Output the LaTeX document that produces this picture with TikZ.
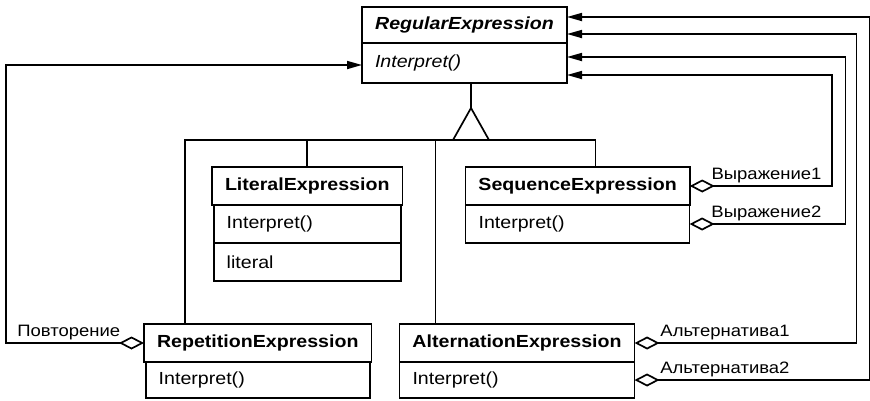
\documentclass[tikz,border=0pt]{standalone}
\usepackage{fontspec}
\setmainfont{Liberation Sans}[FakeStretch=1.12]
\usetikzlibrary{positioning,arrows.meta}

\begin{document}
\begin{tikzpicture}[
    x=1pt, y=-1pt, line width=1.7pt,
    box/.style={draw, outer sep=0pt, inner xsep=13pt, inner ysep=0pt, font=\fontsize{17.5}{21}\selectfont},
    head/.style={box, minimum width=#1, minimum height=38pt, anchor=north west, font=\fontsize{17.5}{21}\selectfont\bfseries},
    member/.style={box, text width=#1, minimum height=38pt, align=left},
    role/.style={inner sep=1pt, font=\fontsize{16.5}{20}\selectfont},
    agg/.style={{Diamond[open,length=25pt,width=13pt]}-{Triangle[length=15pt,width=8pt]}}
]
  \useasboundingbox (0,0) rectangle (870,400);

  % abstract base class
  \node[head=205pt, minimum height=36pt] (re) at (362,7) {\itshape RegularExpression};
  \node[member=179pt, minimum height=40pt, below=0pt of re] (re-op) {\itshape Interpret()};

  % subclasses
  \node[head=187pt] (lit) at (212,167) {LiteralExpression};
  \node[member=161pt, below=0pt of lit] (lit-op) {Interpret()};
  \node[member=161pt, below=0pt of lit-op] (lit-attr) {literal};
  \node[head=224pt, right=63pt of lit] (seq) {SequenceExpression};
  \node[member=198pt, below=0pt of seq] (seq-op) {Interpret()};
  \node[head=224pt] (rep) at (144,324) {RepetitionExpression};
  \node[member=198pt, minimum height=36pt, below=0pt of rep] (rep-op) {Interpret()};
  \node[head=235pt, right=28pt of rep] (alt) {AlternationExpression};
  \node[member=209pt, minimum height=36pt, below=0pt of alt] (alt-op) {Interpret()};

  % inheritance
  \coordinate (tip) at (471,108);
  \coordinate (base) at (471,140);
  \draw (re-op.south -| tip) -- (tip);
  \draw (tip) -- ++(-18,32) -- ++(36,0) -- cycle;
  \draw ([xshift=41pt]rep.north west) |- (base) -| ([xshift=130pt]seq.north west);
  \draw (lit.north) -- (lit.north |- base);
  \draw ([xshift=36pt]alt.north west) -- ([xshift=36pt]alt.north west |- base);

  % aggregations
  \draw[agg] (rep.west) -- ++(-138,0) |- ([yshift=-2pt]re-op.west);
  \draw[agg] (seq.east) -- ++(142,0) |- ([yshift=-12pt]re-op.east);
  \draw[agg] (seq-op.east) -- ++(156,0) |- ([yshift=6pt]re-op.east);
  \draw[agg] (alt.east) -- ++(222,0) |- ([yshift=-9pt]re.east);
  \draw[agg] (alt-op.east) -- ++(235,0) |- ([yshift=8pt]re.east);

  \node[role, above left=1pt and 22pt of rep.west] (rep-role) {Повторение};
  \node[role, above right=1pt and 20pt of seq.east] (seq-role1) {Выражение1};
  \node[role, above right=1pt and 20pt of seq-op.east] (seq-role2) {Выражение2};
  \node[role, above right=1pt and 24pt of alt.east] (alt-role1) {Альтернатива1};
  \node[role, above right=1pt and 24pt of alt-op.east] (alt-role2) {Альтернатива2};
\end{tikzpicture}
\end{document}
